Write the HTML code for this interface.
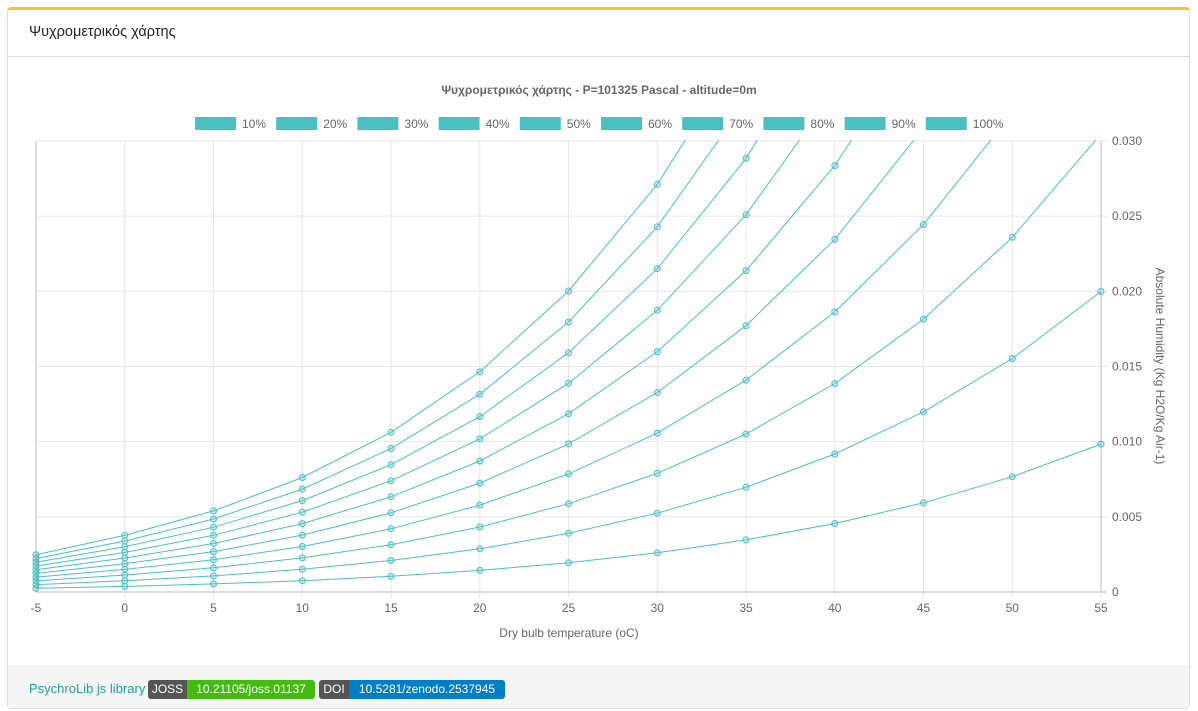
<!DOCTYPE html>
<html><head><meta charset="utf-8"><style>
body{margin:0;background:#fff;font-family:"Liberation Sans",sans-serif;width:1198px;height:711px;overflow:hidden;position:relative}
.card{position:absolute;left:7px;top:7px;width:1183px;height:702px;border:1px solid #ddd;border-top:3px solid #f3c13a;border-radius:4px;box-sizing:border-box;background:#fff}
.hdr{position:absolute;left:0;top:0;right:0;height:46px;border-bottom:1px solid #ddd;font-family:"Liberation Sans",sans-serif;font-size:14.5px;color:#222;line-height:44px;padding-left:21px}
.ftr{position:absolute;left:0;right:0;top:655px;bottom:0;background:#f5f5f5;font-family:"Liberation Sans",sans-serif;font-size:13px}
.ftr .lnk{position:absolute;left:21px;top:16px;color:#20a0a0}
.b{position:absolute;top:15px;height:19px;line-height:19px;font-size:12px;color:#fff;border-radius:3px;overflow:hidden;white-space:nowrap;display:flex}
.b span{display:inline-block;text-align:center}
svg{position:absolute;left:0;top:0}
</style></head><body>
<div class="card"><div class="hdr">Ψυχρομετρικός χάρτης</div>
<div class="ftr"><span class="lnk">PsychroLib js library</span>
<div class="b" style="left:140px"><span style="background:#555;width:39px">JOSS</span><span style="background:#44bb11;width:128px">10.21105/joss.01137</span></div>
<div class="b" style="left:311px"><span style="background:#555;width:30px">DOI</span><span style="background:#007ec6;width:156px">10.5281/zenodo.2537945</span></div>
</div></div>
<svg id="s" width="1198" height="711" xmlns="http://www.w3.org/2000/svg"></svg>
<script>
var s=document.getElementById('s'),h='';
var X=function(t){return 36+(t+5)*1065/60},Y=function(w){return 592-w/0.03*451};
h+='<text x="599" y="94" text-anchor="middle" font-size="12" font-weight="bold" fill="#666">Ψυχρομετρικός χάρτης - P=101325 Pascal - altitude=0m</text>';
for(var i=0;i<10;i++){var lx=195+i*81.2;h+='<rect x="'+lx+'" y="117" width="41" height="13" fill="#4bc0c0"/><text x="'+(lx+47)+'" y="128" font-size="12" fill="#666">'+((i+1)*10)+'%</text>';}
for(var t=-5;t<=55;t+=5){var x=X(t);h+='<line x1="'+x+'" y1="141" x2="'+x+'" y2="'+(t==-5?592:598)+'" stroke="'+(t==-5?'#bbb':'#e6e6e6')+'"/><text x="'+x+'" y="612" font-size="12" fill="#666" text-anchor="middle">'+t+'</text>';}
for(var k=0;k<=6;k++){var w=k*0.005,y=Y(w);h+='<line x1="36" y1="'+y+'" x2="1107" y2="'+y+'" stroke="'+(k==0?'#bbb':'#e6e6e6')+'"/><text x="1112" y="'+(y+4)+'" font-size="12" fill="#666">'+(k==0?'0':w.toFixed(3))+'</text>';}
h+='<line x1="1101" y1="141" x2="1101" y2="592" stroke="#bbb"/>';
h+='<text x="569" y="637" font-size="12" fill="#666" text-anchor="middle">Dry bulb temperature (oC)</text>';
h+='<text transform="translate(1156,366) rotate(90)" font-size="12" fill="#666" text-anchor="middle">Absolute Humidity (Kg H2O/Kg Air-1)</text>';
function ps(t){return t>=0?611.2*Math.exp(17.62*t/(243.12+t)):611.2*Math.exp(22.46*t/(272.62+t));}
h+='<defs><clipPath id="c"><rect x="0" y="140" width="1198" height="460"/></clipPath></defs><g clip-path="url(#c)">';
var pts='';
for(var r=1;r<=10;r++){var d='';for(var t=-5;t<=55;t+=5){var pw=r/10*ps(t),w=0.621945*pw/(101325-pw);var x=X(t),y=Y(w);d+=(t==-5?'M':'L')+x.toFixed(1)+','+y.toFixed(1);if(w<=0.0301)pts+='<circle cx="'+x.toFixed(1)+'" cy="'+y.toFixed(1)+'" r="3" fill="rgba(75,192,192,0.25)" stroke="#4bc0c0" stroke-width="1"/>';}
h+='<path d="'+d+'" fill="none" stroke="#4bc0c0" stroke-width="1"/>';}
h+=pts+'</g>';
s.innerHTML=h;
</script>
</body></html>
